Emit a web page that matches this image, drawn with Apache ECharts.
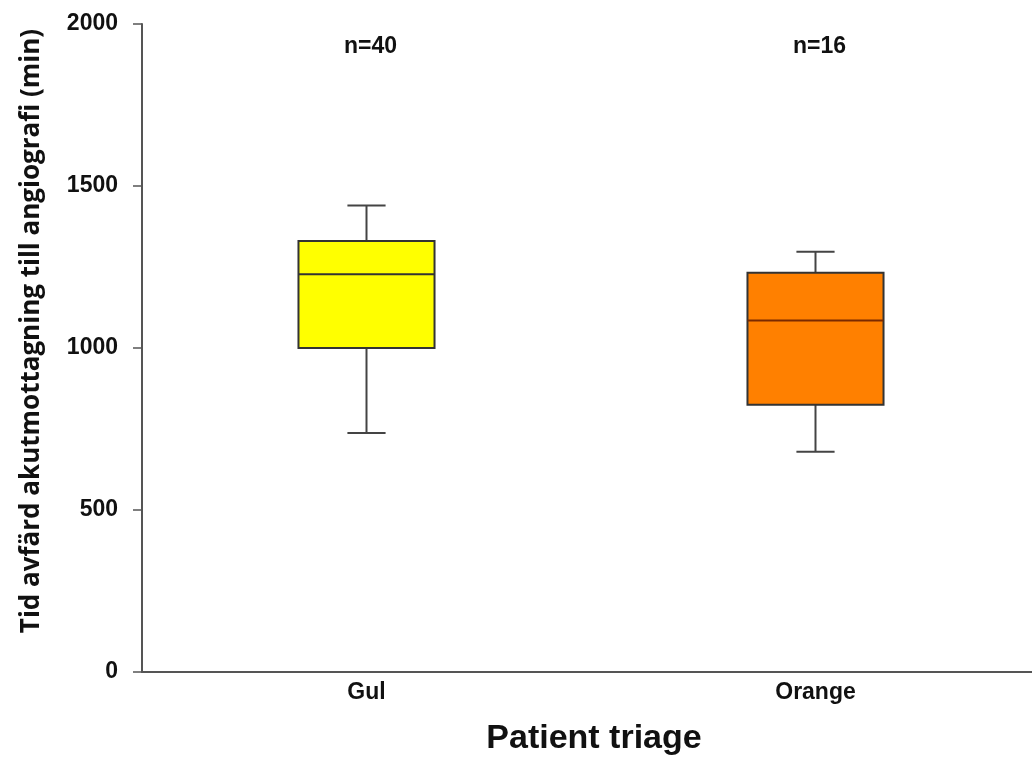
<!DOCTYPE html>
<html><head><meta charset="utf-8">
<script src="https://cdn.jsdelivr.net/npm/echarts@6/dist/echarts.min.js"></script>
<style>html,body{margin:0;padding:0;background:#fff}#c{width:1032px;height:758px}</style>
</head><body><div id="c"></div>
<script>
var categories = ['Gul', 'Orange'];
var boxMin = [738, 680];
var boxQ1 = [1000, 825];
var boxMedian = [1228, 1085];
var boxQ3 = [1330, 1232];
var boxMax = [1440, 1297];
var nLabels = ['n=40', 'n=16'];
var nLabelY = [1930, 1930];
var boxColors = ['#FFFF00', '#FF8000'];
var medianColors = ['#333333', '#7a2a00'];
var yTicks = [0, 500, 1000, 1500, 2000];

var chart = echarts.init(document.getElementById('c'));
var boxData = categories.map(function (c, i) {
  return [i, boxMin[i], boxQ1[i], boxMedian[i], boxQ3[i], boxMax[i]];
});
chart.setOption({
  animation: false,
  grid: { left: 142, right: -8, top: 24, bottom: 86, outerBoundsMode: 'none', containLabel: false },
  xAxis: {
    type: 'category', data: categories, boundaryGap: true,
    axisLine: { lineStyle: { color: '#555', width: 2 } },
    axisTick: { show: false },
    axisLabel: { fontFamily: 'Liberation Sans', fontWeight: 'bold', fontSize: 23, color: '#111', margin: 9 },
    name: 'Patient triage', nameLocation: 'middle', nameGap: 50,
    nameTextStyle: { fontFamily: 'Liberation Sans', fontWeight: 'bold', fontSize: 34, color: '#111', padding: [0, 0, 0, 6] }
  },
  yAxis: {
    type: 'value', min: yTicks[0], max: yTicks[yTicks.length - 1], interval: 500,
    splitLine: { show: false },
    axisLine: { show: true, lineStyle: { color: '#555', width: 2 } },
    axisTick: { show: true, length: 9, lineStyle: { color: '#555', width: 1.5 } },
    axisLabel: { fontFamily: 'Liberation Sans', fontWeight: 'bold', fontSize: 23, color: '#111', margin: 24,
      formatter: function (v) { return String(v); } },
    name: 'Tid avfärd akutmottagning till angiografi (min)', nameLocation: 'middle', nameGap: 97, nameRotate: 90,
    nameTextStyle: { fontFamily: 'Open Sans', fontWeight: 'bold', fontSize: 26, color: '#111', padding: [0, 0, 0, 34] }
  },
  series: [{
    type: 'custom',
    data: boxData,
    encode: { x: 0, y: [1, 2, 3, 4, 5] },
    renderItem: function (params, api) {
      var i = api.value(0);
      var cx = api.coord([i, 0])[0];
      var bw = api.size([1, 0])[0] * 0.303;
      var cw = api.size([1, 0])[0] * 0.085;
      var yMin = api.coord([i, api.value(1)])[1];
      var yQ1 = api.coord([i, api.value(2)])[1];
      var yMed = api.coord([i, api.value(3)])[1];
      var yQ3 = api.coord([i, api.value(4)])[1];
      var yMax = api.coord([i, api.value(5)])[1];
      var ls = { stroke: '#444', lineWidth: 2 };
      return {
        type: 'group',
        children: [
          { type: 'line', shape: { x1: cx, y1: yMax, x2: cx, y2: yQ3 }, style: ls },
          { type: 'line', shape: { x1: cx, y1: yQ1, x2: cx, y2: yMin }, style: ls },
          { type: 'line', shape: { x1: cx - cw / 2, y1: yMax, x2: cx + cw / 2, y2: yMax }, style: ls },
          { type: 'line', shape: { x1: cx - cw / 2, y1: yMin, x2: cx + cw / 2, y2: yMin }, style: ls },
          { type: 'rect', shape: { x: cx - bw / 2, y: yQ3, width: bw, height: yQ1 - yQ3 },
            style: { fill: boxColors[params.dataIndex], stroke: '#333', lineWidth: 2 } },
          { type: 'line', shape: { x1: cx - bw / 2, y1: yMed, x2: cx + bw / 2, y2: yMed },
            style: { stroke: medianColors[params.dataIndex], lineWidth: 2 } }
        ]
      };
    }
  }, {
    type: 'scatter',
    symbolSize: 0,
    itemStyle: { opacity: 1, color: 'transparent' },
    data: categories.map(function (c, i) { return [c, nLabelY[i], nLabels[i]]; }),
    label: {
      show: true, position: 'inside', offset: [4, 0],
      formatter: function (p) { return p.value[2]; },
      fontFamily: 'Liberation Sans', fontWeight: 'bold', fontSize: 23, color: '#111'
    }
  }]
});
</script></body></html>
